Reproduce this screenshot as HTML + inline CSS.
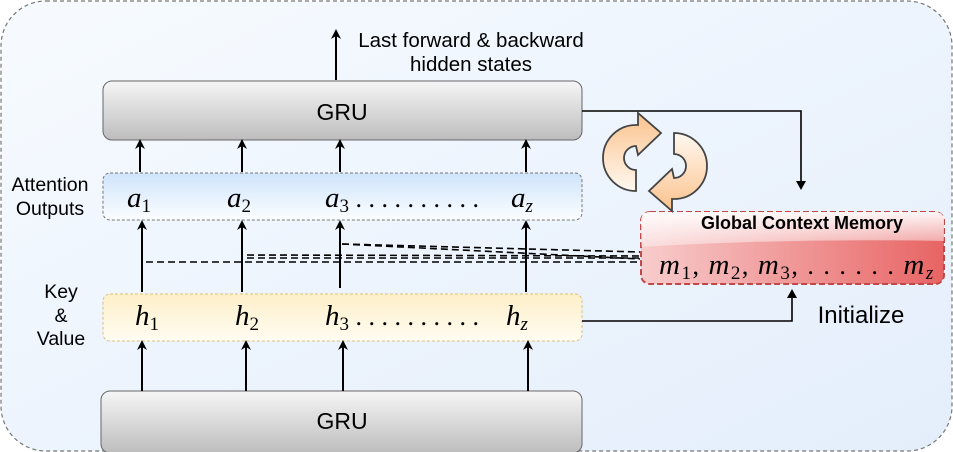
<!DOCTYPE html>
<html><head><meta charset="utf-8"><style>
html,body{margin:0;padding:0;background:#fff;}
svg{display:block;}
text{font-family:"Liberation Sans",sans-serif;}
.m{font-family:"Liberation Serif",serif;font-style:italic;font-size:29px;}
.s{font-family:"Liberation Serif",serif;font-style:normal;font-size:19px;}
.si{font-family:"Liberation Serif",serif;font-style:italic;font-size:19px;}
.d{font-family:"Liberation Serif",serif;font-style:normal;font-size:26px;}
</style></head><body>
<svg width="953" height="452" viewBox="0 0 953 452" xmlns="http://www.w3.org/2000/svg">
<defs>
<linearGradient id="bg" x1="0" y1="0" x2="1" y2="1"><stop offset="0" stop-color="#f7fbff"/><stop offset="0.5" stop-color="#edf4fd"/><stop offset="1" stop-color="#e4eefb"/></linearGradient>
<linearGradient id="gru" x1="0" y1="0" x2="0" y2="1"><stop offset="0" stop-color="#f6f6f6"/><stop offset="1" stop-color="#bdbdbd"/></linearGradient>
<linearGradient id="att" x1="0" y1="0" x2="0" y2="1"><stop offset="0" stop-color="#cfe4fb"/><stop offset="1" stop-color="#fbfdff"/></linearGradient>
<linearGradient id="key" x1="0" y1="0" x2="0" y2="1"><stop offset="0" stop-color="#fdefc8"/><stop offset="1" stop-color="#fffcf2"/></linearGradient>
<linearGradient id="mem" x1="0" y1="0" x2="1" y2="0"><stop offset="0" stop-color="#f8cccc"/><stop offset="1" stop-color="#e86464"/></linearGradient>
<linearGradient id="memtop" x1="0" y1="0" x2="0" y2="1"><stop offset="0" stop-color="#fff" stop-opacity="0.95"/><stop offset="1" stop-color="#fff" stop-opacity="0.35"/></linearGradient>
<linearGradient id="or" x1="0" y1="0" x2="0" y2="1"><stop offset="0" stop-color="#fbc28c"/><stop offset="1" stop-color="#fff8f0"/></linearGradient>
<marker id="ah" markerWidth="10" markerHeight="10" refX="5" refY="5" orient="auto" markerUnits="userSpaceOnUse"><path d="M0,0 L10,5 L0,10 L3,5 Z" fill="#000"/></marker>
</defs>
<rect x="1" y="1" width="951" height="450" rx="45" fill="url(#bg)" stroke="#777" stroke-width="1.2" stroke-dasharray="4,3"/>

<rect x="103" y="81" width="479" height="59" rx="9" fill="url(#gru)" stroke="#666" stroke-width="1"/>
<text x="342" y="120" font-size="23" text-anchor="middle">GRU</text>
<rect x="101" y="391" width="481" height="62" rx="9" fill="url(#gru)" stroke="#666" stroke-width="1"/>
<text x="342" y="429" font-size="23" text-anchor="middle">GRU</text>

<line x1="336" y1="80" x2="336" y2="34" stroke="#000" stroke-width="2" marker-end="url(#ah)"/>
<text x="471" y="47" font-size="20.5" text-anchor="middle">Last forward &amp; backward</text>
<text x="471" y="71" font-size="20.5" text-anchor="middle">hidden states</text>

<rect x="103" y="173" width="479" height="47" rx="7" fill="url(#att)" stroke="#777" stroke-dasharray="3,2"/>
<text x="127" y="207" class="m">a<tspan class="s" dy="5">1</tspan></text>
<text x="227" y="207" class="m">a<tspan class="s" dy="5">2</tspan></text>
<text x="325" y="207" class="m">a<tspan class="s" dy="5">3</tspan><tspan class="d" dy="-5"> . . . . . . . . . .</tspan></text>
<text x="511" y="207" class="m">a<tspan class="si" dy="5">z</tspan></text>
<text x="50" y="191" font-size="19.5" text-anchor="middle">Attention</text>
<text x="50" y="215" font-size="19.5" text-anchor="middle">Outputs</text>

<rect x="103" y="294" width="479" height="47" rx="7" fill="url(#key)" stroke="#d9c27a" stroke-dasharray="3,2"/>
<text x="135" y="325" class="m">h<tspan class="s" dy="5">1</tspan></text>
<text x="235" y="325" class="m">h<tspan class="s" dy="5">2</tspan></text>
<text x="325" y="325" class="m">h<tspan class="s" dy="5">3</tspan><tspan class="d" dy="-5"> . . . . . . . . . .</tspan></text>
<text x="506" y="325" class="m">h<tspan class="si" dy="5">z</tspan></text>
<text x="61" y="298" font-size="19.5" text-anchor="middle">Key</text>
<text x="61" y="322" font-size="19.5" text-anchor="middle">&amp;</text>
<text x="61" y="345" font-size="19.5" text-anchor="middle">Value</text>

<g stroke="#000" stroke-width="2" marker-end="url(#ah)">
<line x1="142" y1="391" x2="142" y2="345"/>
<line x1="246" y1="391" x2="246" y2="345"/>
<line x1="343" y1="391" x2="343" y2="345"/>
<line x1="528" y1="391" x2="528" y2="345"/>
<line x1="142" y1="292" x2="142" y2="225"/>
<line x1="242" y1="292" x2="242" y2="225"/>
<line x1="340" y1="288" x2="340" y2="225"/>
<line x1="526" y1="292" x2="526" y2="225"/>
<line x1="140" y1="172" x2="140" y2="144"/>
<line x1="242" y1="172" x2="242" y2="144"/>
<line x1="340" y1="172" x2="340" y2="144"/>
<line x1="526" y1="172" x2="526" y2="144"/>
</g>
<g stroke="#000" stroke-width="1.6" stroke-dasharray="7,4" fill="none">
<path d="M146,262 L640,262"/>
<path d="M247,255 L640,256"/>
<path d="M342,244 L640,252"/>
<path d="M342,244 L640,259"/>
<path d="M247,258 L640,258"/>
</g>

<polyline points="582,111 801,111 801,184" fill="none" stroke="#000" stroke-width="1.6"/>
<path d="M796,181 L801,190 L806,181 Z" fill="#000"/>
<polyline points="582,321 792,321 792,296" fill="none" stroke="#000" stroke-width="1.6"/>
<path d="M787,298 L792,289 L797,298 Z" fill="#000"/>
<text x="861" y="323" font-size="24" text-anchor="middle">Initialize</text>

<rect x="641" y="212" width="303" height="72" rx="9" fill="url(#mem)" stroke="#c04848" stroke-width="2" stroke-dasharray="6,3"/>
<path d="M650,212 H935 Q944,212 944,221 V241 Q790,238 641,247 V221 Q641,212 650,212 Z" fill="url(#memtop)"/>
<text x="802" y="229" font-size="18" font-weight="bold" text-anchor="middle">Global Context Memory</text>
<text x="659" y="274" class="m" font-size="32" letter-spacing="1.5">m<tspan class="s" dy="5">1</tspan><tspan class="d" dy="-5">, </tspan>m<tspan class="s" dy="5">2</tspan><tspan class="d" dy="-5">, </tspan>m<tspan class="s" dy="5">3</tspan><tspan class="d" dy="-5">, . . . . . . </tspan>m<tspan class="si" dy="5">z</tspan></text>

<g fill="url(#or)" stroke="#444" stroke-width="1.8" stroke-linejoin="miter">
<path d="M636,125 A33,33 0 0 0 636,191 L636,170 A12,12 0 0 1 636,146 L638,155 L661,133 L638,113 L638,125 Z"/>
<path d="M636,125 A33,33 0 0 0 636,191 L636,170 A12,12 0 0 1 636,146 L638,155 L661,133 L638,113 L638,125 Z" transform="rotate(180 655 162)"/>
</g>
</svg>
</body></html>
